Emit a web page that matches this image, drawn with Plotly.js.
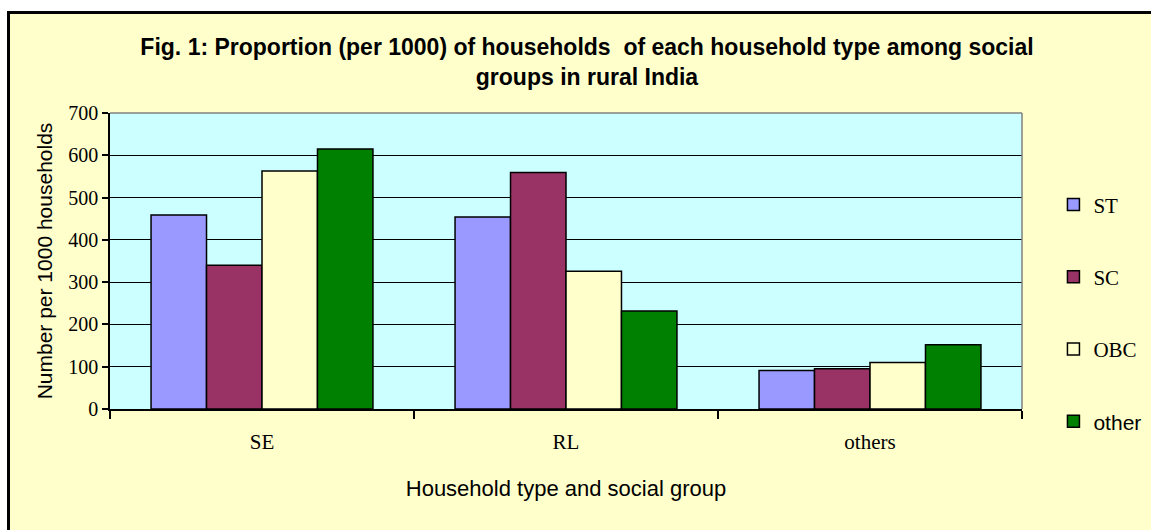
<!DOCTYPE html>
<html>
<head>
<meta charset="utf-8">
<script src="https://cdn.plot.ly/plotly-3.0.1.min.js"></script>
<style>
html, body { margin: 0; padding: 0; background: #ffffff; overflow: hidden; }
#frame { position: absolute; left: 7px; top: 11px; width: 1144px; height: 519px;
  border-left: 3px solid #000; border-top: 3px solid #000; background: #FFFFCC; }
#chart { position: absolute; left: 0; top: 0; width: 1141px; height: 516px; }
</style>
</head>
<body>
<div id="frame"><div id="chart"></div></div>
<script>
var categories = ["SE", "RL", "others"];
var seriesNames = ["ST", "SC", "OBC", "other"];
var stValues = [459, 454, 91];
var scValues = [340, 559, 95];
var obcValues = [563, 326, 110];
var otherValues = [615, 232, 152];
var yTickValues = [0, 100, 200, 300, 400, 500, 600, 700];

var colors = ["#9999FF", "#993366", "#FFFFCC", "#008000"];
var allValues = [stValues, scValues, obcValues, otherValues];
var legendNames = seriesNames.map(function (n) {
  return n === "other" ? '<span style="font-family:\'Liberation Sans\', Arial, sans-serif">' + n + '</span>' : n;
});

var traces = allValues.map(function (vals, i) {
  return {
    type: "bar",
    name: legendNames[i],
    x: categories,
    y: vals,
    legendgroup: "g" + i,
    marker: { color: colors[i], line: { color: "#000000", width: 1.5 } },
    hoverinfo: "x+y+name"
  };
});

var layout = {
  width: 1141,
  height: 516,
  margin: { l: 100, r: 129, t: 99, b: 121 },
  paper_bgcolor: "#FFFFCC",
  plot_bgcolor: "#CCFFFF",
  barmode: "group",
  bargap: 0.27,
  bargroupgap: 0,
  font: { family: "'Liberation Serif', 'Times New Roman', serif", color: "#000", size: 20 },
  title: {
    text: "<b>Fig. 1: Proportion (per 1000) of households  of each household type among social<br>groups in rural India</b>",
    font: { family: "'Liberation Sans', Arial, sans-serif", size: 23, color: "#000" },
    xref: "container", x: 0.5057, xanchor: "center",
    yref: "container", y: 0.92, yanchor: "top"
  },
  xaxis: {
    type: "category",
    showgrid: false,
    zeroline: false,
    showline: true,
    linecolor: "#000",
    linewidth: 1.5,
    ticks: "outside",
    tickson: "boundaries",
    ticklen: 8,
    tickwidth: 1.5,
    tickcolor: "#000",
    ticklabelstandoff: 13,
    tickfont: { family: "'Liberation Serif', 'Times New Roman', serif", size: 21 },
    title: {
      text: "Household type and social group",
      font: { family: "'Liberation Sans', Arial, sans-serif", size: 22 },
      standoff: 28
    }
  },
  yaxis: {
    range: [0, 700],
    tickvals: yTickValues,
    ticktext: yTickValues.map(String),
    showgrid: true,
    gridcolor: "#000",
    gridwidth: 1,
    zeroline: false,
    showline: true,
    linecolor: "#000",
    linewidth: 1.5,
    ticks: "outside",
    ticklen: 6,
    tickwidth: 1.5,
    tickcolor: "#000",
    tickfont: { family: "'Liberation Serif', 'Times New Roman', serif", size: 20 },
    title: {
      text: "Number per 1000 households",
      font: { family: "'Liberation Sans', Arial, sans-serif", size: 21 },
      standoff: 10
    }
  },
  legend: {
    xref: "container", yref: "container",
    x: 0.9145, y: 0.67, xanchor: "left", yanchor: "top",
    bgcolor: "rgba(0,0,0,0)",
    traceorder: "grouped",
    tracegroupgap: 42,
    font: { family: "'Liberation Serif', 'Times New Roman', serif", size: 21, color: "#000" }
  },
  shapes: [
    { type: "line", xref: "paper", yref: "paper", x0: 0, x1: 1, y0: 1, y1: 1, line: { color: "#808080", width: 1.5 } },
    { type: "line", xref: "paper", yref: "paper", x0: 1, x1: 1, y0: 0, y1: 1, line: { color: "#808080", width: 1.5 } }
  ]
};

Plotly.newPlot("chart", traces, layout, { displayModeBar: false });
</script>
</body>
</html>
